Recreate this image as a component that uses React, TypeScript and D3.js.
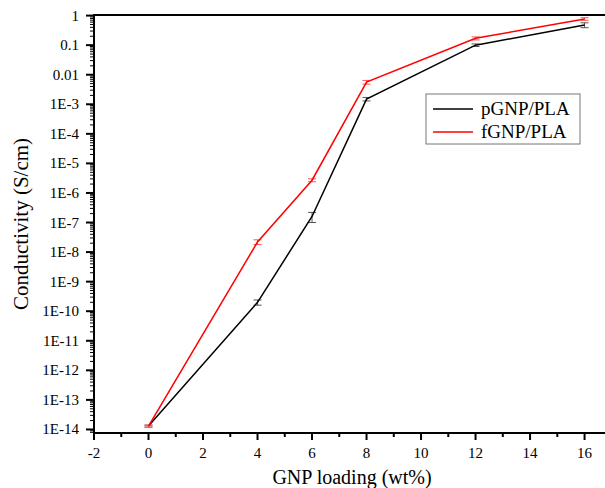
import React, { useEffect, useRef } from 'react'
import * as d3 from 'd3'

const loading = [0, 4, 6, 8, 12, 16]
const pGNP = [1.3e-14, 2.0e-10, 1.6e-7, 1.5e-3, 0.1, 0.48]
const pGNPErr = [0.1e-14, 0.4e-10, 0.6e-7, 0.2e-3, 0.01, 0.09]
const fGNP = [1.3e-14, 2.2e-8, 2.7e-6, 5.6e-3, 0.17, 0.77]
const fGNPErr = [0.1e-14, 0.4e-8, 0.3e-6, 0.8e-3, 0.02, 0.08]
const seriesNames = ['pGNP/PLA', 'fGNP/PLA']
const seriesColors = ['#000000', '#ff0000']
const errColors = ['#555555', '#ff5555']
const xTicks = [-2, 0, 2, 4, 6, 8, 10, 12, 14, 16]
const yTickLabels = ['1', '0.1', '0.01', '1E-3', '1E-4', '1E-5', '1E-6', '1E-7', '1E-8', '1E-9', '1E-10', '1E-11', '1E-12', '1E-13', '1E-14']

const W = 605, H = 488
const margin = { top: 15, right: 0, bottom: 55, left: 94 }
const FONT = 'Liberation Serif, Times New Roman, serif'

const App = () => {
    const ref = useRef(null)

    useEffect(() => {
        const svg = d3.select(ref.current)
        svg.selectAll('*').remove()

        const x = d3.scaleLinear().domain([-2, 16.75]).range([margin.left, W - margin.right])
        const y = d3.scaleLog().domain([Math.pow(10, -14.12), Math.pow(10, 0.02)]).range([H - margin.bottom, margin.top])

        const yMajor = yTickLabels.map((_, i) => Math.pow(10, -i))
        const yMinor = []
        for (let e = -15; e < 0; e++) {
            for (let k = 2; k <= 9; k++) {
                const v = k * Math.pow(10, e)
                if (v >= y.domain()[0] && v <= y.domain()[1]) yMinor.push(v)
            }
        }
        const xMinor = d3.range(-1, 17, 2)

        const bottom = H - margin.bottom

        // minor ticks
        svg.append('g').selectAll('line').data(yMinor).enter().append('line')
            .attr('x1', margin.left - 4).attr('x2', margin.left)
            .attr('y1', d => y(d)).attr('y2', d => y(d))
            .attr('stroke', '#000').attr('stroke-width', 1)
        svg.append('g').selectAll('line').data(yMajor).enter().append('line')
            .attr('x1', margin.left - 8).attr('x2', margin.left)
            .attr('y1', d => y(d)).attr('y2', d => y(d))
            .attr('stroke', '#000').attr('stroke-width', 2)
        svg.append('g').selectAll('line').data(xMinor).enter().append('line')
            .attr('x1', d => x(d)).attr('x2', d => x(d))
            .attr('y1', bottom).attr('y2', bottom + 4)
            .attr('stroke', '#000').attr('stroke-width', 2)
        svg.append('g').selectAll('line').data(xTicks).enter().append('line')
            .attr('x1', d => x(d)).attr('x2', d => x(d))
            .attr('y1', bottom).attr('y2', bottom + 7)
            .attr('stroke', '#000').attr('stroke-width', 2)

        // tick labels
        svg.append('g').selectAll('text').data(yTickLabels).enter().append('text')
            .attr('x', margin.left - 15)
            .attr('y', (d, i) => y(yMajor[i]) + 5)
            .attr('text-anchor', 'end')
            .attr('font-family', FONT).attr('font-size', 15)
            .text(d => d)
        svg.append('g').selectAll('text').data(xTicks).enter().append('text')
            .attr('x', d => x(d))
            .attr('y', bottom + 25)
            .attr('text-anchor', 'middle')
            .attr('font-family', FONT).attr('font-size', 15)
            .text(d => d)

        // axis frame
        svg.append('line').attr('x1', margin.left).attr('x2', margin.left)
            .attr('y1', margin.top - 1).attr('y2', bottom + 1)
            .attr('stroke', '#000').attr('stroke-width', 2)
        svg.append('line').attr('x1', margin.left - 1).attr('x2', W)
            .attr('y1', bottom).attr('y2', bottom)
            .attr('stroke', '#000').attr('stroke-width', 2)
        svg.append('line').attr('x1', margin.left - 1).attr('x2', W)
            .attr('y1', margin.top).attr('y2', margin.top)
            .attr('stroke', '#000').attr('stroke-width', 2)

        // titles
        svg.append('text')
            .attr('x', 352).attr('y', H - 4)
            .attr('text-anchor', 'middle')
            .attr('font-family', FONT).attr('font-size', 20)
            .text('GNP loading (wt%)')
        svg.append('text')
            .attr('transform', 'translate(28,224) rotate(-90)')
            .attr('text-anchor', 'middle')
            .attr('font-family', FONT).attr('font-size', 21)
            .text('Conductivity (S/cm)')

        // series
        const series = [[pGNP, pGNPErr], [fGNP, fGNPErr]]
        const line = d3.line().x(d => x(d[0])).y(d => y(d[1]))
        series.forEach((s, si) => {
            const pts = loading.map((l, i) => [l, s[0][i], s[1][i]])
            const g = svg.append('g')
            pts.forEach(p => {
                const y1 = y(p[1] + p[2]), y2 = y(Math.max(p[1] - p[2], 1e-16))
                g.append('line').attr('x1', x(p[0])).attr('x2', x(p[0])).attr('y1', y1).attr('y2', y2)
                    .attr('stroke', errColors[si]).attr('stroke-width', 1)
                ;[y1, y2].forEach(yy => {
                    g.append('line').attr('x1', x(p[0]) - 4).attr('x2', x(p[0]) + 4).attr('y1', yy).attr('y2', yy)
                        .attr('stroke', errColors[si]).attr('stroke-width', 1)
                })
            })
            g.append('path').datum(pts).attr('d', line)
                .attr('fill', 'none').attr('stroke', seriesColors[si]).attr('stroke-width', 1.5)
        })

        // legend
        const lg = svg.append('g')
        lg.append('rect').attr('x', 426).attr('y', 94).attr('width', 154).attr('height', 50)
            .attr('fill', '#fff').attr('stroke', '#777').attr('stroke-width', 1)
        seriesNames.forEach((n, i) => {
            const yy = 109 + i * 23
            lg.append('line').attr('x1', 433).attr('x2', 473).attr('y1', yy).attr('y2', yy)
                .attr('stroke', seriesColors[i]).attr('stroke-width', 1.5)
            lg.append('text').attr('x', 481).attr('y', yy + 6)
                .attr('font-family', FONT).attr('font-size', 19)
                .text(n)
        })
    })

    return (
        <svg ref={ref} width={W} height={H} style={{ position: 'absolute', left: 0, top: 0, background: '#fff' }}></svg>
    )
}

export default App
